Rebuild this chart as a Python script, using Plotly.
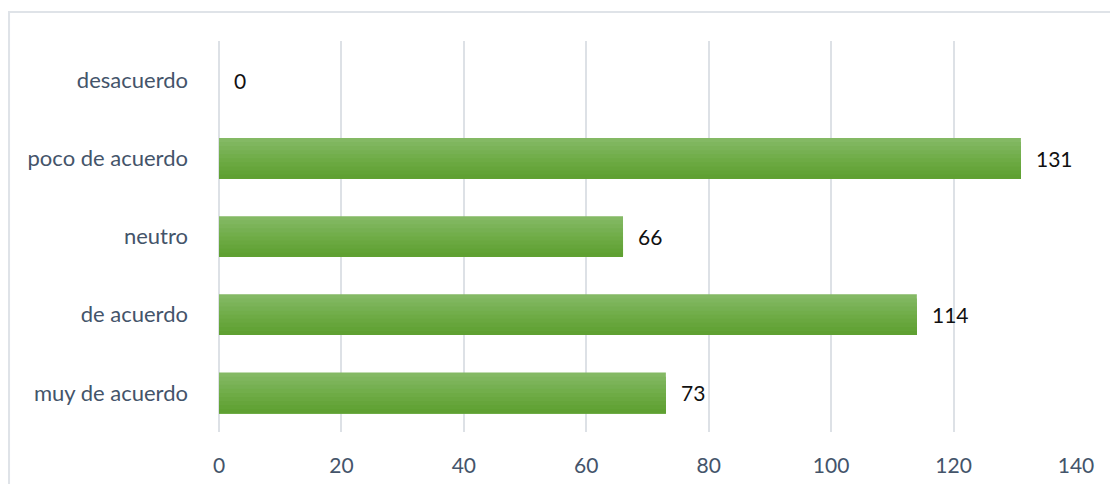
import plotly.graph_objects as go

# Survey responses per agreement level
categories = ["muy de acuerdo", "de acuerdo", "neutro", "poco de acuerdo", "desacuerdo"]
counts = [73, 114, 66, 131, 0]
x_ticks = [0, 20, 40, 60, 80, 100, 120, 140]

FONT = "Lato, 'Open Sans', sans-serif"
AXIS_COLOR = "#44546a"
GRID_COLOR = "#dde1e6"

BAR_WIDTH = 0.52
# Vertical shading of the bars: light green at the top, deeper green at the bottom.
shades = ["#84b964", "#7fb65e", "#7bb358", "#76b052", "#72ae4b", "#6eab45",
          "#6aa840", "#66a53b", "#62a336", "#5fa032"]

fig = go.Figure()
n = len(shades)
for i, color in enumerate(shades):
    w = BAR_WIDTH * (n - i) / n
    fig.add_trace(go.Bar(
        x=counts,
        y=categories,
        orientation="h",
        width=w,
        offset=-BAR_WIDTH / 2,
        marker=dict(color=color, line=dict(width=0)),
        hoverinfo="x+y" if i == 0 else "skip",
        showlegend=False,
    ))

# Value labels to the right of each bar
for cat, val in zip(categories, counts):
    fig.add_annotation(
        x=val, y=cat, text=str(val),
        showarrow=False, xanchor="left", yanchor="middle",
        xshift=13,
        font=dict(family=FONT, size=21, color="#111111"),
    )

fig.update_layout(
    width=1110, height=484,
    margin=dict(l=219, r=34, t=41, b=52),
    paper_bgcolor="white",
    plot_bgcolor="white",
    barmode="overlay",
    font=dict(family=FONT, size=22, color=AXIS_COLOR),
    shapes=[dict(
        type="rect", xref="paper", yref="paper",
        x0=-0.245, x1=1.2, y0=-0.3, y1=1.074,
        line=dict(color="#dfe3e8", width=2),
        fillcolor="rgba(0,0,0,0)", layer="below",
    )],
)
fig.update_xaxes(
    range=[0, 140],
    tickvals=x_ticks,
    showgrid=True, gridcolor=GRID_COLOR, gridwidth=1.5,
    zeroline=True, zerolinecolor=GRID_COLOR, zerolinewidth=1.5,
    showline=False, ticks="",
    automargin=False,
    ticklabelstandoff=19,
    tickfont=dict(family=FONT, size=21, color=AXIS_COLOR),
)
fig.update_yaxes(
    categoryorder="array", categoryarray=categories,
    showgrid=False, zeroline=False, showline=False, ticks="",
    automargin=False,
    ticklabelstandoff=30,
    tickfont=dict(family=FONT, size=22, color=AXIS_COLOR),
)

fig.write_html("out.html")
